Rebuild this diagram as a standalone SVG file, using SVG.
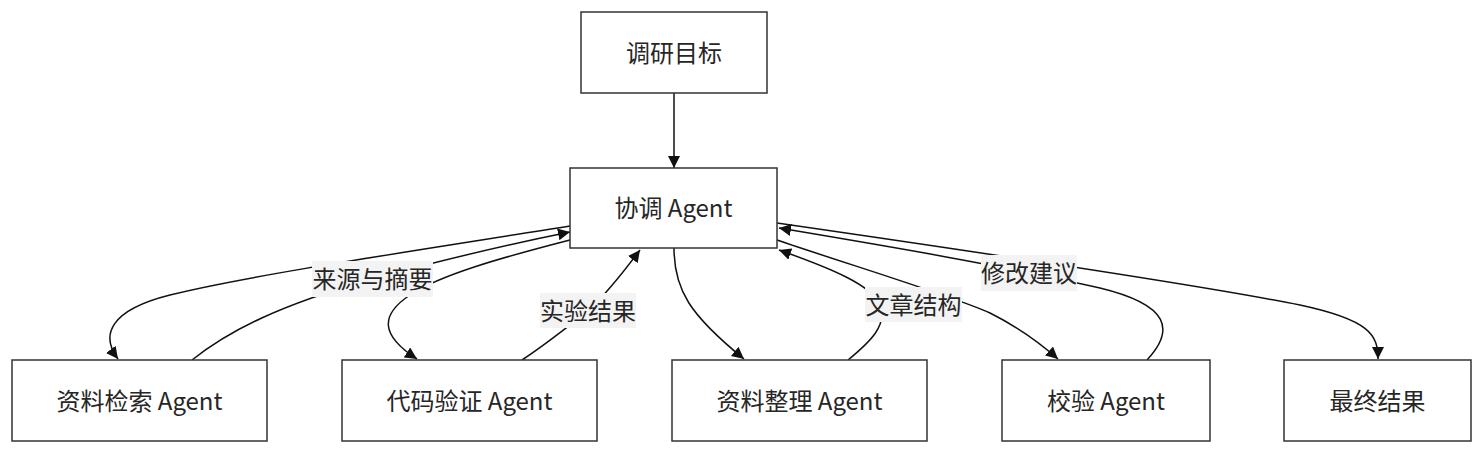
<svg xmlns="http://www.w3.org/2000/svg" width="1482" height="453" viewBox="0 0 1482 453">
<style>
.node rect{fill:#ffffff;stroke:#333333;stroke-width:1.5}
text{font-family:"Noto Sans CJK SC","Noto Sans",sans-serif;font-size:24px;fill:#262626;text-anchor:middle;dominant-baseline:central}
.edge{fill:none;stroke:#111111;stroke-width:1.5}
.lbl rect{fill:#f3f3f3;stroke:none}
</style>
<defs>
<marker id="arr" viewBox="0 0 10 10" refX="10" refY="5" markerWidth="12" markerHeight="12" markerUnits="userSpaceOnUse" orient="auto">
<path d="M0,0 L10,5 L0,10 z" fill="#111111"/>
</marker>
</defs>
<g id="connectors">
<path class="edge" marker-end="url(#arr)" d="M674,93 L674,168"/>
<path class="edge" marker-end="url(#arr)" d="M570,226 C420,250 250,275 170,295 C110,310 100,335 118,359"/>
<path class="edge" marker-end="url(#arr)" d="M192,360 C230,330 280,305 372,279 C450,258 520,242 570,232"/>
<path class="edge" marker-end="url(#arr)" d="M570,240 C500,258 440,275 410,295 C380,315 380,335 417,359"/>
<path class="edge" marker-end="url(#arr)" d="M522,360 C545,345 570,325 588,311 C605,295 625,270 640,250"/>
<path class="edge" marker-end="url(#arr)" d="M674,248 C674,290 690,315 744,359"/>
<path class="edge" marker-end="url(#arr)" d="M848,360 C870,342 888,325 880,305 C872,285 830,268 779,250"/>
<path class="edge" marker-end="url(#arr)" d="M777,240 C850,265 950,295 990,313 C1020,328 1040,343 1058,359"/>
<path class="edge" marker-end="url(#arr)" d="M1147,360 C1175,330 1170,305 1100,288 C1000,265 880,245 779,228"/>
<path class="edge" marker-end="url(#arr)" d="M777,223 C950,248 1200,285 1300,305 C1370,320 1378,335 1378,359"/>
</g>
<g id="edge-labels">
<g class="lbl" id="label-sources"><rect x="312" y="261" width="121" height="36"/><text x="372.5" y="277.5">来源与摘要</text></g>
<g class="lbl" id="label-results"><rect x="540" y="293" width="96" height="35"/><text x="588" y="309">实验结果</text></g>
<g class="lbl" id="label-structure"><rect x="865" y="287" width="97" height="35"/><text x="913.5" y="303">文章结构</text></g>
<g class="lbl" id="label-revise"><rect x="981" y="255" width="96" height="36"/><text x="1029" y="271.5">修改建议</text></g>
</g>
<g class="node" id="goal"><rect x="581" y="12" width="186" height="81"/><text x="674" y="51">调研目标</text></g>
<g class="node" id="coordinator"><rect x="570" y="168" width="207" height="80"/><text x="673.5" y="206.5">协调 Agent</text></g>
<g class="node" id="search"><rect x="12" y="360" width="255" height="81"/><text x="139.5" y="399">资料检索 Agent</text></g>
<g class="node" id="code"><rect x="342" y="360" width="255" height="81"/><text x="469.5" y="399">代码验证 Agent</text></g>
<g class="node" id="organize"><rect x="672" y="360" width="255" height="81"/><text x="799.5" y="399">资料整理 Agent</text></g>
<g class="node" id="verify"><rect x="1002" y="360" width="208" height="81"/><text x="1106" y="399">校验 Agent</text></g>
<g class="node" id="final"><rect x="1284" y="360" width="187" height="81"/><text x="1377.5" y="399">最终结果</text></g>
</svg>
